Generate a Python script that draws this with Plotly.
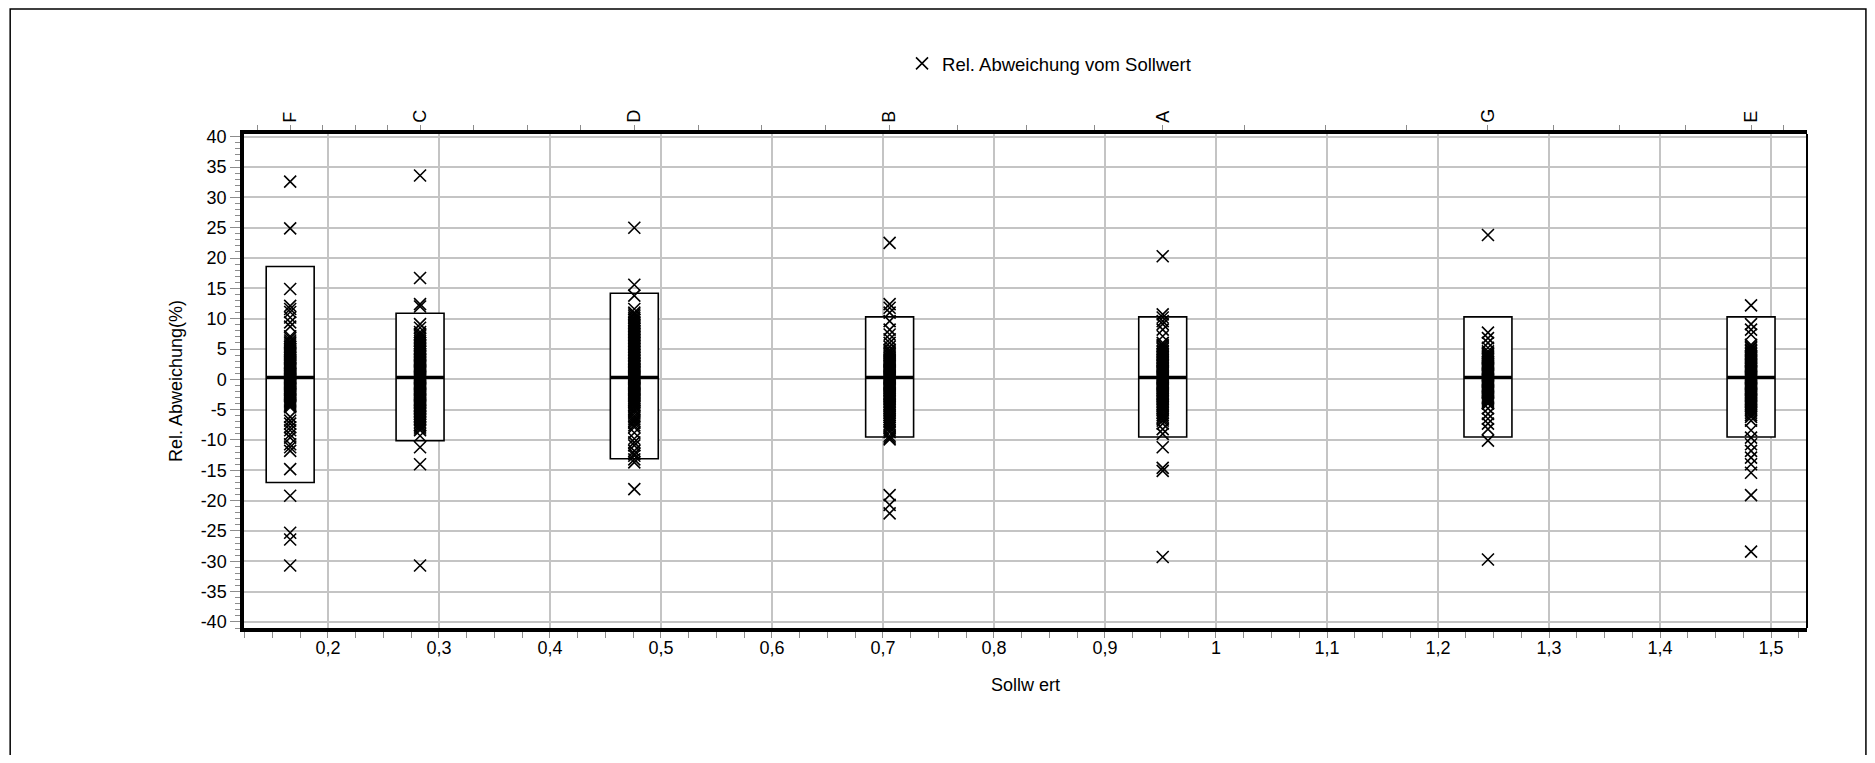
import plotly.graph_objects as go

# Sollwert je Probe (Kategorie oben)
categories = ["F", "C", "D", "B", "A", "G", "E"]
sollwert = [0.166, 0.283, 0.476, 0.706, 0.952, 1.245, 1.482]

# Boxen (unteres/oberes Ende, Median) in %
box_low = [-17.0, -10.1, -13.1, -9.5, -9.5, -9.5, -9.5]
box_high = [18.6, 10.9, 14.2, 10.3, 10.3, 10.3, 10.3]
box_median = [0.3, 0.3, 0.3, 0.3, 0.3, 0.3, 0.3]

# Rel. Abweichung vom Sollwert (%) je Probe
dev_F = [32.6, 24.9, 14.9, 12.1, 11.6, 11.1, 10.2, 9.4, 8.7, 7.1, 6.8, 6.4, 6.1, 5.9,
         5.6, 5.3, 5.0, 4.8, 4.6, 4.4, 4.2, 4.0, 3.7, 3.5, 3.3, 3.1, 2.9, 2.7, 2.5, 2.3,
         2.1, 1.9, 1.7, 1.5, 1.3, 1.1, 0.9, 0.8, 0.6, 0.4, 0.2, 0.1, -0.1, -0.3, -0.5,
         -0.6, -0.8, -1.0, -1.2, -1.4, -1.6, -1.8, -2.0, -2.2, -2.4, -2.6, -2.8, -3.0,
         -3.2, -3.4, -3.6, -3.8, -4.0, -4.2, -4.4, -4.6, -6.2, -6.8, -7.3, -7.9, -8.4,
         -9.1, -9.6, -10.7, -11.2, -11.8, -14.8, -19.2, -25.3, -26.4, -30.7]
dev_C = [33.6, 16.7, 12.4, 12.0, 9.1, 8.5, 7.8, 7.5, 7.2, 6.9, 6.6, 6.3, 6.0, 5.7, 5.5,
         5.2, 5.0, 4.7, 4.5, 4.2, 4.0, 3.8, 3.6, 3.4, 3.2, 3.0, 2.8, 2.6, 2.4, 2.2, 2.0,
         1.8, 1.6, 1.4, 1.2, 1.0, 0.8, 0.6, 0.4, 0.2, 0.0, -0.2, -0.4, -0.6, -0.8, -1.0,
         -1.2, -1.4, -1.6, -1.8, -2.0, -2.2, -2.4, -2.6, -2.8, -3.0, -3.2, -3.4, -3.6,
         -3.8, -4.0, -4.2, -4.4, -4.6, -4.8, -5.0, -5.2, -5.5, -5.7, -6.0, -6.2, -6.5,
         -6.7, -7.0, -7.2, -7.5, -7.8, -8.1, -8.4, -9.3, -11.2, -14.0, -30.7]
dev_D = [25.0, 15.6, 13.8, 11.6, 11.0, 10.7, 10.4, 10.1, 9.8, 9.5, 9.3, 9.0, 8.8, 8.5,
         8.3, 8.0, 7.8, 7.5, 7.3, 7.0, 6.8, 6.5, 6.3, 6.0, 5.8, 5.5, 5.3, 5.0, 4.8, 4.5,
         4.3, 4.0, 3.8, 3.5, 3.3, 3.0, 2.8, 2.6, 2.4, 2.2, 2.0, 1.8, 1.6, 1.4, 1.2, 1.0,
         0.8, 0.6, 0.4, 0.2, 0.0, -0.2, -0.4, -0.6, -0.8, -1.0, -1.2, -1.4, -1.6, -1.8,
         -2.0, -2.2, -2.4, -2.6, -2.8, -3.0, -3.2, -3.4, -3.6, -3.8, -4.0, -4.3, -4.5,
         -4.9, -5.2, -5.6, -6.0, -6.3, -6.6, -6.9, -7.2, -7.6, -7.9, -8.8, -9.8, -10.4,
         -10.9, -11.8, -12.3, -12.6, -13.2, -13.7, -18.1]
dev_B = [22.5, 12.4, 11.8, 11.0, 9.6, 8.2, 7.4, 6.6, 6.0, 5.4, 4.9, 4.6, 4.4, 4.1, 3.9,
         3.6, 3.4, 3.2, 3.0, 2.8, 2.6, 2.4, 2.2, 2.0, 1.8, 1.6, 1.4, 1.2, 1.0, 0.8, 0.6,
         0.4, 0.2, 0.0, -0.2, -0.4, -0.6, -0.8, -1.0, -1.2, -1.4, -1.6, -1.8, -2.0,
         -2.2, -2.4, -2.6, -2.8, -3.0, -3.2, -3.5, -3.7, -4.0, -4.2, -4.5, -4.8, -5.0,
         -5.3, -5.6, -5.9, -6.2, -6.5, -6.8, -7.1, -7.4, -7.7, -8.0, -8.4, -8.7, -9.3,
         -9.6, -9.9, -19.1, -20.7, -22.1]
dev_A = [20.3, 10.7, 10.2, 9.6, 9.1, 8.2, 7.1, 6.0, 5.7, 5.5, 5.2, 5.0, 4.7, 4.5, 4.2,
         4.0, 3.7, 3.5, 3.2, 3.0, 2.8, 2.6, 2.4, 2.2, 2.0, 1.8, 1.6, 1.4, 1.2, 1.0, 0.8,
         0.6, 0.4, 0.2, 0.0, -0.2, -0.4, -0.6, -0.8, -1.0, -1.2, -1.4, -1.6, -1.8, -2.0,
         -2.2, -2.4, -2.6, -2.8, -3.0, -3.2, -3.5, -3.7, -4.0, -4.2, -4.5, -4.8, -5.0,
         -5.3, -5.6, -5.9, -6.2, -6.5, -6.8, -7.3, -8.2, -9.0, -11.2, -14.6, -15.1,
         -29.3]
dev_G = [23.8, 7.7, 6.8, 6.0, 5.2, 4.6, 4.3, 4.1, 3.9, 3.7, 3.5, 3.3, 3.1, 2.9, 2.7,
         2.5, 2.3, 2.1, 1.9, 1.7, 1.5, 1.3, 1.1, 0.9, 0.7, 0.5, 0.3, 0.1, -0.1, -0.3,
         -0.5, -0.7, -0.9, -1.1, -1.3, -1.5, -1.7, -1.9, -2.1, -2.3, -2.5, -2.7, -2.9,
         -3.1, -3.3, -3.5, -3.7, -3.9, -4.0, -4.8, -5.7, -6.5, -7.3, -8.2, -10.1, -29.7]
dev_E = [12.2, 9.1, 8.2, 7.4, 5.7, 5.4, 5.2, 4.9, 4.7, 4.4, 4.2, 3.9, 3.7, 3.5, 3.2,
         3.0, 2.8, 2.6, 2.4, 2.2, 2.0, 1.8, 1.6, 1.4, 1.2, 1.0, 0.8, 0.6, 0.4, 0.2, 0.0,
         -0.2, -0.4, -0.6, -0.8, -1.0, -1.2, -1.4, -1.6, -1.8, -2.0, -2.2, -2.4, -2.6,
         -2.8, -3.0, -3.2, -3.4, -3.6, -3.8, -4.0, -4.3, -4.5, -4.8, -5.0, -5.3, -5.6,
         -5.9, -6.2, -6.8, -8.4, -9.6, -10.7, -11.8, -12.9, -14.0, -15.4, -19.1, -28.4]

y_ticks = [-40, -35, -30, -25, -20, -15, -10, -5, 0, 5, 10, 15, 20, 25, 30, 35, 40]
y_ticktext = ["-40", "-35", "-30", "-25", "-20", "-15", "-10", "-5", "0", "5", "10",
              "15", "20", "25", "30", "35", "40"]

font = "Liberation Sans, Arial, sans-serif"
grid = "#c4c4c4"
tickc = "#8c8c8c"
box_w = 0.0432
x_range = [0.1244, 1.5324]
y_range = [-41.0, 40.45]

devs = [dev_F, dev_C, dev_D, dev_B, dev_A, dev_G, dev_E]
xs, ys = [], []
for s, d in zip(sollwert, devs):
    xs += [s] * len(d)
    ys += d

fig = go.Figure()

fig.add_trace(go.Box(
    x=sollwert, q1=box_low, median=box_median, q3=box_high,
    lowerfence=box_low, upperfence=box_high,
    width=box_w, whiskerwidth=0, fillcolor="white",
    line=dict(color="black", width=1.6),
    showlegend=False, hoverinfo="skip"))

# dicker Median-Strich
mx, my = [], []
for s, m in zip(sollwert, box_median):
    mx += [s - box_w / 2, s + box_w / 2, None]
    my += [m, m, None]
fig.add_trace(go.Scatter(x=mx, y=my, mode="lines",
                         line=dict(color="black", width=3.5),
                         showlegend=False, hoverinfo="skip"))

fig.add_trace(go.Scatter(
    x=xs, y=ys, mode="markers", name="Rel. Abweichung vom Sollwert",
    marker=dict(symbol="x-thin", size=12, color="black",
                line=dict(color="black", width=1.6))))

# Achse oben mit Probenbezeichnungen
minor_top = []
for a, b in zip(sollwert[:-1], sollwert[1:]):
    minor_top += [a + (b - a) * k / 4 for k in (1, 2, 3)]
end_step = (sollwert[1] - sollwert[0]) / 4
minor_top += [sollwert[0] - end_step, sollwert[-1] + end_step]
top_vals = sollwert + minor_top
top_text = categories + [""] * len(minor_top)

fig.add_trace(go.Scatter(x=sollwert, y=[None] * len(sollwert), xaxis="x2",
                         mode="markers", showlegend=False, hoverinfo="skip"))

fig.update_layout(
    width=1859, height=747,
    margin=dict(l=236, r=60, t=126, b=127),
    paper_bgcolor="white", plot_bgcolor="white",
    separators=",.",
    font=dict(family=font, size=18, color="black"),
    showlegend=True,
    legend=dict(orientation="h", x=0.421, xanchor="left", y=1.142, yanchor="middle",
                font=dict(size=18.5), bgcolor="rgba(0,0,0,0)"),
    xaxis=dict(
        range=x_range, tick0=0, dtick=0.1, showgrid=True, gridcolor=grid, gridwidth=1.6,
        zeroline=False, showline=True, linecolor="black", linewidth=3.5,
        ticks="outside", ticklen=6, tickcolor=tickc, tickwidth=1.3,
        minor=dict(dtick=0.025, ticks="outside", ticklen=6, tickcolor=tickc,
                   tickwidth=1.3, showgrid=False),
        tickfont=dict(size=18), ticklabelstandoff=-5,
        title=dict(text="Sollw ert", font=dict(size=18), standoff=22)),
    xaxis2=dict(
        overlaying="x", side="top", range=x_range, tickmode="array",
        tickvals=top_vals, ticktext=top_text, tickangle=-90,
        showgrid=False, zeroline=False, showline=True, linecolor="black",
        linewidth=3.5, ticks="outside", ticklen=5, tickcolor=tickc, tickwidth=1.3,
        tickfont=dict(size=18), ticklabelstandoff=-1),
    yaxis=dict(
        range=y_range, tickmode="array", tickvals=y_ticks, ticktext=y_ticktext,
        showgrid=True, gridcolor=grid, gridwidth=1.6, zeroline=False,
        showline=True, linecolor="black", linewidth=3.5,
        ticks="outside", ticklen=10, tickcolor=tickc, tickwidth=1.3,
        minor=dict(dtick=1, tick0=0, ticks="outside", ticklen=5, tickcolor=tickc,
                   tickwidth=1.3, showgrid=False),
        tickfont=dict(size=18),
        title=dict(text="Rel. Abweichung(%)", font=dict(size=18), standoff=14)),
)

# rechter Rahmen und Außenrahmen
fig.add_shape(type="line", xref="paper", yref="paper", x0=1, x1=1, y0=0, y1=1,
              line=dict(color="black", width=2))
fig.add_shape(type="rect", xref="paper", yref="paper", x0=-0.1496, x1=1.0377,
              y0=-0.4, y1=1.253, line=dict(color="black", width=1.5))

fig.write_html("out.html")
